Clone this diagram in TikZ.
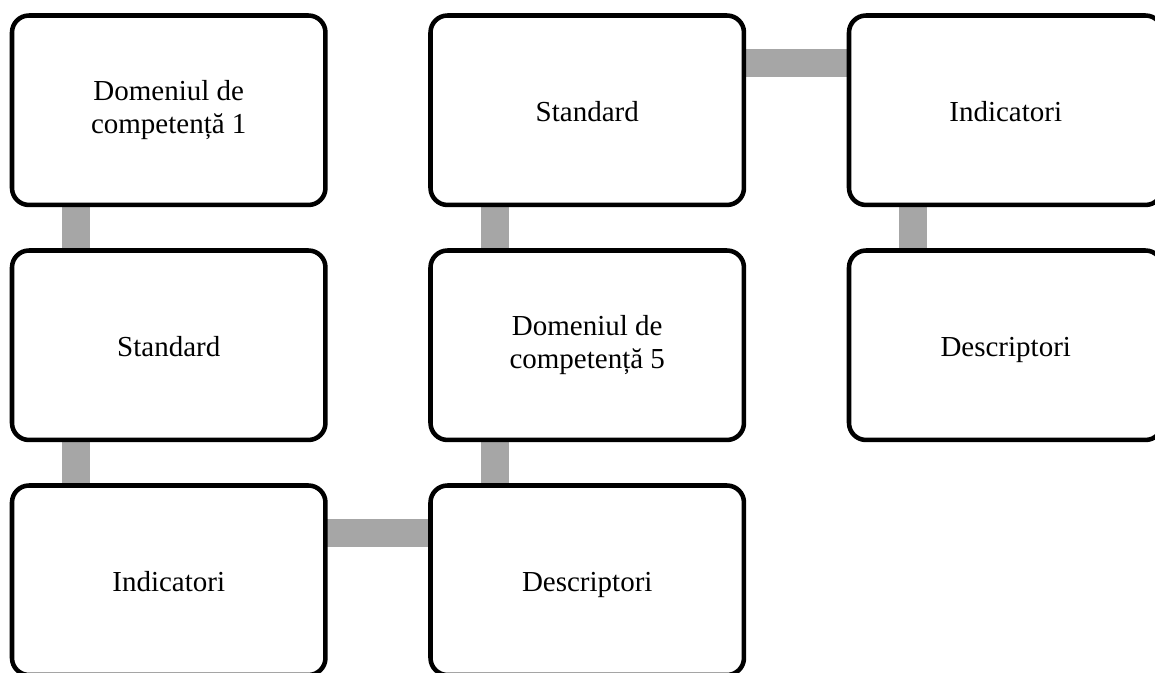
\documentclass[tikz,border=0pt]{standalone}
\usepackage{fontspec}
\setmainfont{Liberation Serif}
\usetikzlibrary{backgrounds}
\definecolor{linkgray}{RGB}{166,166,166}
\begin{document}
\begin{tikzpicture}[x=0.75pt,y=-0.75pt,
  stepbox/.style={draw=black, line width=3.4pt, rounded corners=12.75pt,
    fill=white, minimum width=235.1pt, minimum height=142.1pt,
    inner sep=0pt, outer sep=0pt, align=center, anchor=north west,
    font=\fontsize{21.75pt}{25pt}\selectfont},
  oneline/.style={text height=20pt, text depth=2.4pt},
  link/.style={fill=linkgray, draw=none}]
\useasboundingbox (0,0) rectangle (1155,672);
\clip (0,0) rectangle (1155,672);

% boxes, column by column
\node[stepbox] (d1) at (12,15.5)    {Domeniul de\\competență 1};
\node[stepbox,oneline] (s1) at (12,250.5)   {Standard};
\node[stepbox,oneline] (i1) at (12,485.5)   {Indicatori};
\node[stepbox,oneline] (r1) at (430.5,485.5){Descriptori};
\node[stepbox] (d5) at (430.5,250.5){Domeniul de\\competență 5};
\node[stepbox,oneline] (s5) at (430.5,15.5) {Standard};
\node[stepbox,oneline] (i5) at (849,15.5)   {Indicatori};
\node[stepbox,oneline] (r5) at (849,250.5)  {Descriptori};

% connecting bars, behind the boxes
\begin{scope}[on background layer]
  % vertical bars between stacked boxes
  \fill[link] ([xshift=37.5pt]d1.south west) rectangle ([xshift=58.5pt]s1.north west);
  \fill[link] ([xshift=37.5pt]s1.south west) rectangle ([xshift=58.5pt]i1.north west);
  \fill[link] ([xshift=37.5pt]d5.south west) rectangle ([xshift=58.5pt]r1.north west);
  \fill[link] ([xshift=37.5pt]s5.south west) rectangle ([xshift=58.5pt]d5.north west);
  \fill[link] ([xshift=37.5pt]i5.south west) rectangle ([xshift=58.5pt]r5.north west);
  % horizontal bars between neighbouring columns
  \fill[link] ([yshift=-24.75pt]i1.north east) rectangle ([yshift=-45.75pt]r1.north west);
  \fill[link] ([yshift=-24.75pt]s5.north east) rectangle ([yshift=-45.75pt]i5.north west);
\end{scope}
\end{tikzpicture}
\end{document}
